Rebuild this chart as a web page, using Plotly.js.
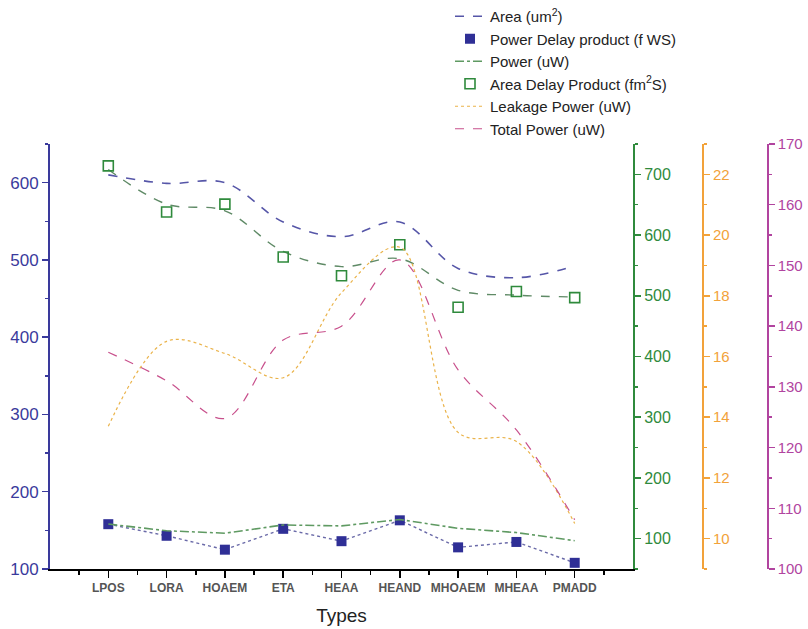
<!DOCTYPE html>
<html>
<head>
<meta charset="utf-8">
<script src="https://cdn.plot.ly/plotly-3.0.1.min.js"></script>
<style>html,body{margin:0;padding:0;background:#fff;}#chart{width:808px;height:629px;}</style>
</head>
<body>
<div id="chart"></div>
<script>
const categories = ["LPOS","LORA","HOAEM","ETA","HEAA","HEAND","MHOAEM","MHEAA","PMADD"];
const area = [610, 599, 600, 549, 530, 549, 489, 477, 492];
const powerDelayProduct = [158, 143, 125, 152, 136, 163, 128, 135, 108];
const power = [124, 113, 109, 122.5, 121, 131.5, 117, 110, 96.6];
const areaDelayProduct = [714, 638, 651, 564, 533, 584, 481, 507, 497];
const areaDelayTrend = [708, 651, 640, 573, 548, 561, 509, 501, 498];
const leakagePower = [13.7, 16.5, 16.1, 15.3, 18.1, 19.6, 13.5, 13.2, 10.5];
const totalPower = [135.7, 131, 124.8, 137.7, 140, 150.9, 132.8, 122.9, 108.1];

const xIdx = categories.map((c, i) => i);
const NAVY = '#3a3a9c', GREEN = '#2f8a3c', ORANGE = '#f2a23a', PURPLE = '#b1449f';
const FONT = 'Liberation Sans, Arial, sans-serif';

const traces = [
  {x: xIdx, y: area, name: 'Area (um<sup>2</sup>)', mode: 'lines', yaxis: 'y',
   line: {color: '#5656a8', width: 1.6, dash: 'dash', shape: 'spline', smoothing: 1.0}, legendrank: 1},
  {x: xIdx, y: powerDelayProduct, mode: 'lines', yaxis: 'y', showlegend: false,
   line: {color: '#6a6aa8', width: 1.4, dash: 'dot'}},
  {x: xIdx, y: powerDelayProduct, name: 'Power Delay product (f WS)', mode: 'markers', yaxis: 'y',
   marker: {symbol: 'square', size: 10, color: '#2f2f96'}, legendrank: 2},
  {x: xIdx, y: power, name: 'Power (uW)', mode: 'lines', yaxis: 'y2',
   line: {color: '#5f9a62', width: 1.6, dash: 'dashdot'}, legendrank: 3},
  {x: xIdx, y: areaDelayTrend, mode: 'lines', yaxis: 'y2', showlegend: false,
   line: {color: '#5f8a66', width: 1.4, dash: 'dash', shape: 'spline', smoothing: 1.0}},
  {x: xIdx, y: areaDelayProduct, name: 'Area Delay Product (fm<sup>2</sup>S)', mode: 'markers', yaxis: 'y2',
   marker: {symbol: 'square-open', size: 10, color: GREEN, line: {width: 1.6, color: GREEN}}, legendrank: 4},
  {x: xIdx, y: leakagePower, name: 'Leakage Power (uW)', mode: 'lines', yaxis: 'y3',
   line: {color: '#eab34a', width: 1.2, dash: 'dot', shape: 'spline', smoothing: 1.0}, legendrank: 5},
  {x: xIdx, y: totalPower, name: 'Total Power (uW)', mode: 'lines', yaxis: 'y4',
   line: {color: '#c8508c', width: 1.2, dash: 'dash', shape: 'spline', smoothing: 1.0}, legendrank: 6}
];

const W = 808, ML = 50, MR = 30;
const pw = W - ML - MR;
const xEnd = (633 - ML) / pw;

const layout = {
  width: 808, height: 629,
  margin: {l: ML, r: MR, t: 144, b: 60, autoexpand: false},
  paper_bgcolor: '#fff', plot_bgcolor: '#fff',
  font: {family: FONT, color: '#222'},
  showlegend: true,
  legend: {x: (450 - ML) / pw, y: 1 + 144 / 425, xanchor: 'left', yanchor: 'top',
           font: {size: 15, color: '#222', family: FONT}, bgcolor: 'rgba(0,0,0,0)', tracegroupgap: 0},
  xaxis: {domain: [0, xEnd], range: [-1, 9], tickmode: 'array', tickvals: xIdx, ticktext: categories,
          ticks: 'outside', ticklen: 7, tickwidth: 1.5, tickcolor: '#000',
          showline: true, linecolor: '#000', linewidth: 2, showgrid: false, zeroline: false,
          tickfont: {size: 12, color: '#555', family: FONT, weight: 'bold'},
          minor: {tickmode: 'linear', tick0: -0.5, dtick: 1, ticks: 'outside', ticklen: 4, tickcolor: '#000', showgrid: false},
          title: {text: 'Types', font: {size: 19, color: '#222', family: FONT}, standoff: 14}},
  yaxis: {range: [100, 650], tick0: 100, dtick: 100, ticks: 'outside', ticklen: 6, tickwidth: 1.5, tickcolor: NAVY,
          showline: true, linecolor: NAVY, linewidth: 2, showgrid: false, zeroline: false,
          tickfont: {size: 17, color: NAVY, family: FONT},
          minor: {dtick: 50, ticks: 'outside', ticklen: 3, tickcolor: NAVY, showgrid: false}},
  yaxis2: {overlaying: 'y', side: 'right', anchor: 'x', range: [50, 750], tick0: 100, dtick: 100,
           ticks: 'outside', ticklen: 6, tickwidth: 1.5, tickcolor: GREEN,
           showline: true, linecolor: GREEN, linewidth: 2, showgrid: false, zeroline: false,
           tickfont: {size: 16, color: GREEN, family: FONT},
           minor: {dtick: 50, ticks: 'outside', ticklen: 3, tickcolor: GREEN, showgrid: false}},
  yaxis3: {overlaying: 'y', side: 'right', anchor: 'free', position: (703 - ML) / pw, range: [9, 23], tick0: 10, dtick: 2,
           ticks: 'outside', ticklen: 6, tickwidth: 1.5, tickcolor: ORANGE,
           showline: true, linecolor: ORANGE, linewidth: 2, showgrid: false, zeroline: false,
           tickfont: {size: 15, color: ORANGE, family: FONT},
           minor: {dtick: 1, ticks: 'outside', ticklen: 3, tickcolor: ORANGE, showgrid: false}},
  yaxis4: {overlaying: 'y', side: 'right', anchor: 'free', position: (767.7 - ML) / pw, range: [100, 170], tick0: 100, dtick: 10,
           ticks: 'outside', ticklen: 6, tickwidth: 1.5, tickcolor: PURPLE,
           showline: true, linecolor: PURPLE, linewidth: 2, showgrid: false, zeroline: false,
           tickfont: {size: 15, color: PURPLE, family: FONT},
           minor: {dtick: 5, ticks: 'outside', ticklen: 3, tickcolor: PURPLE, showgrid: false}}
};

Plotly.newPlot('chart', traces, layout, {displayModeBar: false, staticPlot: true});
</script>
</body>
</html>
